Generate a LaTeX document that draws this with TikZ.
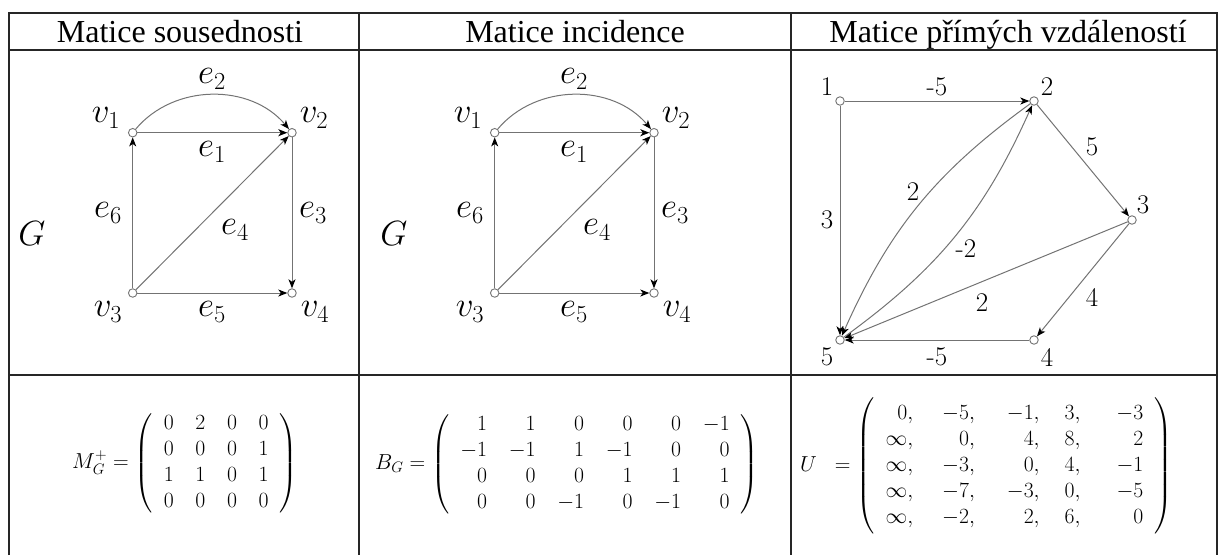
\documentclass[tikz,border=0pt]{standalone}
\usepackage{fix-cm}
\usepackage{amsmath}
\usepackage[no-math]{fontspec}
\setmainfont{Liberation Serif}
\newfontfamily\lmfont{Latin Modern Roman}
\usetikzlibrary{arrows.meta}
\tikzset{
  vtx/.style={circle, draw=black!55, fill=white, inner sep=0pt, minimum size=8.5pt, line width=0.9pt},
  edg/.style={draw=black!55, line width=1pt, -{Stealth[length=9pt,width=7pt,inset=2.5pt,color=black]}},
  hdr/.style={font=\rmfamily\fontsize{32}{38}\selectfont, inner sep=0pt, anchor=base},
  ml/.style={font=\fontsize{35}{42}\selectfont, inner sep=0pt},
  dl/.style={font=\lmfont\fontsize{27}{32}\selectfont, inner sep=0pt},
  tframe/.style={line width=2pt, draw=black!85},
  mat/.style={inner sep=0pt, anchor=west, text=black, font=\fontsize{21.7}{26}\selectfont},
}
\begin{document}
\begin{tikzpicture}[x=1pt,y=-1pt]
\useasboundingbox (0,0) rectangle (1221,555);
% table
\draw[tframe] (9,555) -- (9,12.5) -- (1216.5,12.5) -- (1216.5,555);
\draw[tframe] (9,50) -- (1216.5,50);
\draw[tframe] (9,375) -- (1216.5,375);
\draw[tframe] (359,12.5) -- (359,555);
\draw[tframe] (791,12.5) -- (791,555);
% headers
\node[hdr] (h1) at (180,42) {Matice sousednosti};
\node[hdr] (h2) at (575,42) {Matice incidence};
\node[hdr] (h3) at (1008,42) {Matice přímých vzdáleností};
% graphs 1 and 2
\foreach \p/\dx in {a/0,b/362}{
\begin{scope}[xshift=\dx]
  \node[vtx] (\p1) at (132.7,132.7) {};
  \node[vtx] (\p2) at (292,132.7) {};
  \node[vtx] (\p3) at (132.7,293) {};
  \node[vtx] (\p4) at (292,293) {};
  \draw[edg] (\p1) -- (\p2);
  \draw[edg] (\p1) to[bend left=50] (\p2);
  \draw[edg] (\p2) -- (\p4);
  \draw[edg] (\p3) -- (\p2);
  \draw[edg] (\p3) -- (\p4);
  \draw[edg] (\p3) -- (\p1);
  \node[ml] (\p lv1) at (106,118) {$v_1$};
  \node[ml] (\p lv2) at (314,118) {$v_2$};
  \node[ml] (\p lv3) at (108,312) {$v_3$};
  \node[ml] (\p lv4) at (315,312) {$v_4$};
  \node[ml] (\p le1) at (212,152) {$e_1$};
  \node[ml] (\p le2) at (212,79) {$e_2$};
  \node[ml] (\p le3) at (313,213) {$e_3$};
  \node[ml] (\p le4) at (235,230) {$e_4$};
  \node[ml] (\p le5) at (212,312) {$e_5$};
  \node[ml] (\p le6) at (108,213) {$e_6$};
  \node[ml] (\p G) at (32,234) {$G$};
\end{scope}
}
% graph 3
\node[vtx] (n1) at (840,101) {};
\node[vtx] (n2) at (1034,101) {};
\node[vtx] (n3) at (1132,220) {};
\node[vtx] (n4) at (1034,340) {};
\node[vtx] (n5) at (840,340) {};
\draw[edg] (n1) -- (n2);
\draw[edg] (n1) -- (n5);
\draw[edg] (n2) -- (n3);
\draw[edg] (n3) -- (n4);
\draw[edg] (n4) -- (n5);
\draw[edg] (n3) -- (n5);
\draw[edg] (n2) to[bend right=15] (n5);
\draw[edg] (n5) to[bend right=15] (n2);
\node[dl] (l1) at (827,87) {1};
\node[dl] (l2) at (1047,87) {2};
\node[dl] (l3) at (1143,205) {3};
\node[dl] (l4) at (1047,357) {4};
\node[dl] (l5) at (827,357) {5};
\node[dl] (w12) at (937,87) {-5};
\node[dl] (w23) at (1092,147) {5};
\node[dl] (w15) at (827,220) {3};
\node[dl] (w25) at (913,192) {2};
\node[dl] (w52) at (966,249) {-2};
\node[dl] (w35) at (982,303) {2};
\node[dl] (w34) at (1092,297) {4};
\node[dl] (w45) at (937,357) {-5};
% matrices
\node[mat] (mM) at (72,463)
  {\arraycolsep=10.85pt$M_G^+ = \left(\begin{array}{cccc}
   0&2&0&0\\ 0&0&0&1\\ 1&1&0&1\\ 0&0&0&0 \end{array}\right)$};
\node[mat] (mB) at (375,464)
  {\arraycolsep=10.85pt$B_G = \left(\begin{array}{rrrrrr}
   1&1&0&0&0&-1\\ -1&-1&1&-1&0&0\\ 0&0&0&1&1&1\\ 0&0&-1&0&-1&0 \end{array}\right)$};
\node[mat] (mU) at (800,466)
  {\arraycolsep=10.85pt$U\hspace{12pt} = \left(\begin{array}{r@{\hspace{29pt}}r@{\hspace{32pt}}r@{\hspace{25pt}}r@{\hspace{36pt}}r}
   0,&-5,&-1,&3,&-3\\ \infty,&0,&4,&8,&2\\ \infty,&-3,&0,&4,&-1\\ \infty,&-7,&-3,&0,&-5\\ \infty,&-2,&2,&6,&0 \end{array}\right)$};
\end{tikzpicture}
\end{document}
